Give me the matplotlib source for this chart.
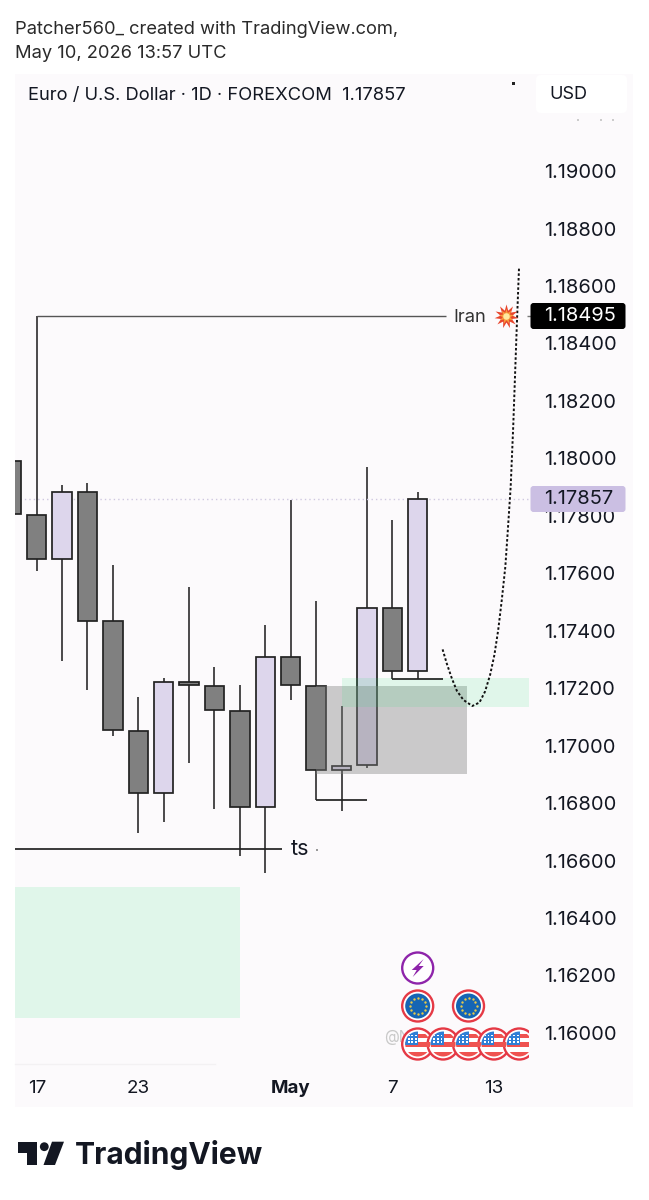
# -*- coding: utf-8 -*-
"""
EURUSD daily chart, TradingView snapshot
"""

import matplotlib
matplotlib.use('Agg')
import matplotlib.pyplot as plt
from matplotlib.patches import Circle, Rectangle, FancyBboxPatch, Polygon

plt.rcParams['font.family'] = ['Inter', 'DejaVu Sans']

# Input data
bars = [-1, 0, 1, 2, 3, 4, 5, 6, 7, 8, 9, 10, 11, 12, 13, 14, 15]
opens = [1.17990, 1.17803, 1.17650, 1.17884, 1.17435, 1.17051, 1.16834, 1.17222, 1.17208,
         1.17121, 1.16786, 1.17310, 1.17208, 1.16915, 1.16933, 1.17479, 1.17261]
closes = [1.17806, 1.17650, 1.17884, 1.17435, 1.17055, 1.16834, 1.17222, 1.17210, 1.17123,
          1.16786, 1.17310, 1.17211, 1.16915, 1.16930, 1.17479, 1.17261, 1.17857]
highs = [1.17990, 1.18495, 1.17907, 1.17913, 1.17629, 1.17168, 1.17235, 1.17553, 1.17275,
         1.17210, 1.17420, 1.17855, 1.17503, 1.17139, 1.17969, 1.17785, 1.17882]
lows = [1.17806, 1.17609, 1.17295, 1.17194, 1.17035, 1.16695, 1.16733, 1.16939, 1.16779,
        1.16617, 1.16556, 1.17159, 1.16811, 1.16773, 1.16923, 1.17232, 1.17232]

price_ticks = [1.19, 1.188, 1.186, 1.184, 1.182, 1.18, 1.178, 1.176, 1.174, 1.172,
               1.17, 1.168, 1.166, 1.164, 1.162, 1.16]
time_ticks = [0, 4, 10, 14, 18]
time_labels = ['17', '23', 'May', '7', '13']

last_price = 1.17857
iran_price = 1.18495
ts_price = 1.16641

# Projected path (dotted)
path_x = [15.98, 16.14, 16.34, 16.54, 16.80, 17.15, 17.43, 17.65, 17.85, 18.02, 18.17, 18.31,
          18.45, 18.54, 18.66, 18.76, 18.83, 18.90, 18.99]
path_y = [1.17335, 1.17287, 1.17235, 1.17191, 1.17159, 1.17138, 1.17150, 1.17188, 1.17246, 1.17316,
          1.17403, 1.17507, 1.17623, 1.17739, 1.17901, 1.18110, 1.18284, 1.18458, 1.18667]

# Events row
bolt_events = [15]
eu_events = [15, 17]
us_events = [15, 16, 17, 18, 19]

# Figure and panels
W, H = 649, 1200
PANEL = '#fcfafc'
fig = plt.figure(figsize=(W / 100, H / 100), dpi=100, facecolor='white')
panel = [15, 74, 633, 1107]
ax = fig.add_axes([panel[0] / W, 1 - panel[3] / H, (panel[2] - panel[0]) / W, (panel[3] - panel[1]) / H])
ax.set_facecolor(PANEL)
ax.set_xlim(-0.854, 23.476)
ax.set_ylim(1.15742, 1.19338)
for s in ax.spines.values():
    s.set_visible(False)

# Candles
for i in range(len(bars)):
    up = closes[i] >= opens[i]
    col = '#ddd6ec' if up else '#808080'
    ax.vlines(bars[i], lows[i], highs[i], color='#222222', lw=1.15, zorder=2)
    ax.bar(bars[i], abs(closes[i] - opens[i]), bottom=min(opens[i], closes[i]), width=0.76,
           color=col, edgecolor='#222222', linewidth=1.25, zorder=3)

# Zones
ax.add_patch(Rectangle((-1, 1.16052), 9, 1.16508 - 1.16052, color='#2be278', alpha=0.13, lw=0, zorder=1))
ax.add_patch(Rectangle((11, 1.16900), 5.96, 1.17209 - 1.16900, color='#808080', alpha=0.4, lw=0, zorder=4))
ax.add_patch(Rectangle((12, 1.17135), 7.4, 1.17235 - 1.17135, color='#2be278', alpha=0.13, lw=0, zorder=5))

# Levels
ax.hlines(last_price, -1, 19.4, color='#cfc8e0', lw=1, linestyles=(0, (1, 2.2)), zorder=2.5)
ax.hlines(iran_price, 0, 16.13, color='#555555', lw=1, zorder=6)
ax.hlines(ts_price, -1, 9.66, color='#222222', lw=1.25, zorder=6)
ax.hlines(1.16811, 11, 13, color='#222222', lw=1.25, zorder=6)
ax.hlines(1.17232, 14, 16, color='#222222', lw=1.25, zorder=6)
ax.plot(path_x, path_y, color='#111111', lw=1.4, linestyle=(0, (1.3, 1.1)), zorder=7)
ax.hlines(iran_price, 19.32, 19.6, color='#777777', lw=1, zorder=6)

# Axes labels
ax.yaxis.tick_right()
ax.set_yticks(price_ticks)
ax.set_yticklabels(['%.5f' % p for p in price_ticks], color='#131722', fontsize=14.4)
ax.tick_params(axis='y', length=0, pad=-64)
ax.set_xticks(time_ticks)
ax.set_xticklabels(time_labels, color='#131722', fontsize=13.5)
ax.get_xticklabels()[2].set_fontweight('bold')
ax.tick_params(axis='x', length=0, pad=-19.5)

ax.text(10.0, ts_price, 'ts', fontsize=15.5, color='#131722', va='center', ha='left', zorder=8)
ax.text(16.42, iran_price - 0.00003, 'Iran', fontsize=13.2, color='#333333', va='center', ha='left', zorder=8)

# Overlay in pixel coordinates
ov = fig.add_axes([0, 0, 1, 1], zorder=10)
ov.set_xlim(0, W)
ov.set_ylim(H, 0)
ov.axis('off')


def to_px(b, p):
    x, y = ax.transData.transform((b, p))
    return x, H - y


ov.text(15, 29, 'Patcher560_ created with TradingView.com,', fontsize=13.2, color='#2a2a2a', va='center')
ov.text(15, 54, 'May 10, 2026 13:57 UTC', fontsize=13.2, color='#2a2a2a', va='center')
ov.text(28, 95, 'Euro / U.S. Dollar · 1D · FOREXCOM  1.17857', fontsize=13.25, color='#131722', va='center')

ov.add_patch(Rectangle((512, 81.5), 3, 3, color='#222222', lw=0))
for dx in [577, 600, 612]:
    ov.add_patch(Rectangle((dx, 119), 2, 1.5, color='#cccccc', lw=0))
ov.add_patch(Rectangle((316, 849), 1.5, 1.5, color='#999999', lw=0))

# USD box and price badges
ov.add_patch(FancyBboxPatch((536, 75), 91, 38, boxstyle='round,pad=0,rounding_size=5', fc='white', ec='none', zorder=2))
ov.text(549, 94.5, 'USD', fontsize=13, color='#131722', va='center', zorder=3)

ov.add_patch(FancyBboxPatch((530.5, 303), 95, 26, boxstyle='round,pad=0,rounding_size=3', fc='black', ec='none', zorder=2))
ov.text(544.5, 316, '%.5f' % iran_price, fontsize=14.4, color='white', va='center', zorder=3)
ov.add_patch(FancyBboxPatch((530.5, 486), 95, 26, boxstyle='round,pad=0,rounding_size=3', fc='#cbbfe3', ec='none', zorder=2))
ov.text(544.5, 499, '%.5f' % last_price, fontsize=14.4, color='#131722', va='center', zorder=3)

# Explosion emoji
ov.scatter([505.5], [315.5], marker=(11, 1, 0), s=300, c='#e8452c', lw=0, zorder=3)
ov.scatter([506], [315.5], marker=(9, 1, 0), s=120, c='#f79a3a', lw=0, zorder=4)
ov.scatter([506], [315.5], marker='o', s=22, c='#ffe9a0', lw=0, zorder=5)

# Watermark, event bubbles
ov.text(384, 1037, '@N', fontsize=11, color='#c9c9c9', va='center', zorder=1)
R = 15.5

for b in bolt_events:
    cx, cy = to_px(b, last_price)[0], 968
    ov.add_patch(Circle((cx, cy), R, fc='white', ec='#8e24aa', lw=1.7, zorder=3))
    ov.add_patch(Polygon([(cx + 6, cy - 9), (cx - 6, cy + 2), (cx - 1, cy + 2), (cx - 5, cy + 9), (cx + 6, cy - 2),
                          (cx + 1, cy - 2)], fc='#8e24aa', ec='none', zorder=4))

for b in eu_events:
    cx, cy = to_px(b, last_price)[0], 1006
    ov.add_patch(Circle((cx, cy), R, fc='white', ec='#e53945', lw=1.7, zorder=3))
    ov.add_patch(Circle((cx, cy), 12.5, fc='#1565b4', ec='none', zorder=4))
    ox = [cx + 8 * dx for dx in (0, .5, .866, 1, .866, .5, 0, -.5, -.866, -1, -.866, -.5)]
    oy = [cy + 8 * dy for dy in (-1, -.866, -.5, 0, .5, .866, 1, .866, .5, 0, -.5, -.866)]
    ov.scatter(ox, oy, s=3, c='#e5c94a', lw=0, zorder=5)

for b in us_events:
    cx, cy = to_px(b, last_price)[0], 1044
    ov.add_patch(Circle((cx, cy), R, fc='white', ec='#e53945', lw=1.7, zorder=3))
    inner = Circle((cx, cy), 12.5, transform=ov.transData)
    for off, hgt in [(-10, 3.5), (-2, 5), (7.5, 5)]:
        st = Rectangle((cx - 13, cy + off), 26, hgt, fc='#ef5350', lw=0, zorder=4)
        ov.add_patch(st)
        st.set_clip_path(inner)
    cant = Rectangle((cx - 13, cy - 13), 13.5, 14, fc='#2f7fd6', lw=0, zorder=5)
    ov.add_patch(cant)
    cant.set_clip_path(inner)
    for i in range(3):
        for j in range(3):
            d = Rectangle((cx - 10 + i * 3.7, cy - 9.5 + j * 3.4), 1.8, 1.8, fc='white', lw=0, zorder=6)
            ov.add_patch(d)
            d.set_clip_path(inner)

# The last bubble is cut off at the end of the chart pane
ov.add_patch(Rectangle((529, 1026), 12, 36, fc=PANEL, lw=0, zorder=7))

# Faint line above time axis
ov.plot([15, 215], [1064, 1064], color='#f3f1f3', lw=1, zorder=1)

# TradingView logo
ov.add_patch(Polygon([(18.3, 1141.7), (37.3, 1141.7), (37.3, 1165), (27.3, 1165), (27.3, 1152.7), (18.3, 1152.7)],
                     fc='#131722', ec='none'))
ov.add_patch(Circle((44.3, 1146.7), 4.4, fc='#131722', ec='none'))
ov.add_patch(Polygon([(52, 1141.7), (64, 1141.7), (55, 1165), (43.5, 1165)], fc='#131722', ec='none'))
ov.text(75, 1154.5, 'TradingView', fontsize=21.6, fontweight='bold', color='#131722', va='center')

fig.savefig('out.png', dpi=100)
